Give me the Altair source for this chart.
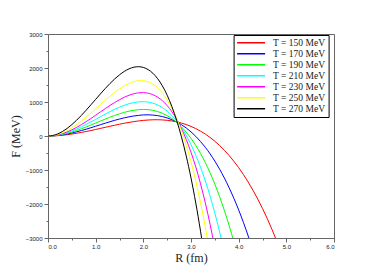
import altair as alt
import pandas as pd

labels = ["T = 150 MeV", "T = 170 MeV", "T = 190 MeV", "T = 210 MeV",
          "T = 230 MeV", "T = 250 MeV", "T = 270 MeV"]
colors = ["#ff0000", "#0000ff", "#00ff00", "#00ffff", "#ff00ff", "#ffff00", "#000000"]

# radius grid step (fm) and F values (MeV), starting at R = 0
r_step = 0.1
f_150 = [0, 3, 10, 22, 38, 57, 80, 105, 132, 161, 192, 223, 255, 286, 317, 347, 375, 400, 423, 443,
         459, 470, 477, 478, 473, 461, 442, 416, 380, 336, 282, 218, 143, 56, -43, -155, -280, -420,
         -574, -745, -931, -1134, -1355, -1595, -1854, -2132, -2431, -2752, -3094]
f_170 = [0, 4, 16, 34, 58, 88, 122, 160, 200, 243, 287, 332, 376, 420, 461, 499, 534, 564, 589, 607,
         620, 623, 616, 599, 571, 531, 478, 412, 332, 237, 122, -11, -162, -333, -524, -738, -975,
         -1236, -1522, -1835, -2175, -2543, -2942, -3371]
f_190 = [0, 5, 21, 45, 77, 117, 162, 212, 266, 323, 381, 439, 497, 553, 605, 653, 695, 730, 757, 774,
         781, 775, 755, 720, 669, 599, 510, 401, 268, 112, -69, -278, -515, -783, -1083, -1416, -1784,
         -2189, -2633, -3117]
f_210 = [0, 7, 26, 57, 98, 148, 207, 271, 341, 415, 490, 567, 643, 716, 785, 848, 903, 949, 983, 1004,
         1010, 998, 966, 913, 836, 733, 602, 440, 244, 13, -256, -566, -920, -1319, -1767, -2266,
         -2820, -3431]
f_230 = [0, 8, 31, 69, 119, 181, 253, 334, 422, 514, 610, 708, 804, 898, 987, 1068, 1140, 1199, 1243,
         1270, 1276, 1259, 1215, 1142, 1036, 894, 713, 489, 218, -103, -478, -910, -1405, -1965,
         -2596, -3300]
f_250 = [0, 11, 42, 92, 159, 240, 335, 440, 554, 673, 800, 926, 1050, 1170, 1283, 1385, 1474, 1546,
         1598, 1626, 1626, 1594, 1526, 1416, 1262, 1060, 812, 513, 155, -266, -756, -1318, -1958,
         -2681, -3491]
f_270 = [0, 15, 60, 130, 222, 335, 464, 606, 758, 917, 1078, 1239, 1395, 1543, 1679, 1799, 1899, 1975,
         2023, 2038, 2017, 1954, 1846, 1687, 1473, 1200, 862, 455, -27, -588, -1234, -1970, -2800,
         -3731]
series = [f_150, f_170, f_190, f_210, f_230, f_250, f_270]

x_ticks = [0, 0.5, 1, 1.5, 2, 2.5, 3, 3.5, 4, 4.5, 5, 5.5, 6]
y_ticks = [-3000, -2500, -2000, -1500, -1000, -500, 0, 500, 1000, 1500, 2000, 2500, 3000]

rows = []
for lab, vals in zip(labels, series):
    for i, v in enumerate(vals):
        rows.append({"R": round(i * r_step, 2), "F": v, "T": lab})
df = pd.DataFrame(rows)

chart = alt.Chart(df).mark_line(strokeWidth=1, clip=True, interpolate="monotone").encode(
    x=alt.X("R:Q", scale=alt.Scale(domain=[0, 6], nice=False),
            axis=alt.Axis(values=x_ticks, title="R (fm)", grid=False,
                          labelExpr="datum.value % 1 === 0 ? format(datum.value, '.1f') : ''",
                          tickSize={"condition": {"test": "datum.value % 1 === 0", "value": 4}, "value": 2},
                          labelFont="Liberation Sans", labelFontSize=6, labelColor="#222",
                          labelPadding=1, titleFont="Liberation Serif", titleFontSize=12,
                          titleFontWeight="normal", titlePadding=3, domainColor="#666",
                          tickColor="#666", titleColor="#222")),
    y=alt.Y("F:Q", scale=alt.Scale(domain=[-3000, 3000], nice=False),
            axis=alt.Axis(values=y_ticks, title="F (MeV)", grid=False,
                          labelExpr="datum.value % 1000 === 0 ? format(datum.value, 'd') : ''",
                          tickSize={"condition": {"test": "datum.value % 1000 === 0", "value": 4}, "value": 2},
                          labelFont="Liberation Sans", labelFontSize=6, labelColor="#222",
                          labelPadding=2, titleFont="Liberation Serif", titleFontSize=12,
                          titleFontWeight="normal", titlePadding=3, domainColor="#666",
                          tickColor="#666", titleColor="#222")),
    color=alt.Color("T:N", scale=alt.Scale(domain=labels, range=colors),
                    legend=alt.Legend(title=None, orient="none", legendX=185.6, legendY=1,
                                      strokeColor="black", fillColor="white", padding=2.5,
                                      labelFont="Liberation Serif", labelFontSize=9.5,
                                      labelColor="#222", symbolType="stroke", symbolSize=784,
                                      symbolStrokeWidth=1.5, clipHeight=10.5, rowPadding=0,
                                      labelOffset=7, labelLimit=200)),
).properties(
    width=286, height=204,
    autosize=alt.AutoSizeParams(type="none"),
    padding={"left": 40, "top": 26, "right": 30, "bottom": 30},
).configure_view(stroke="#666", strokeWidth=1)

chart.save("out.html", embed_options={"renderer": "svg", "actions": False})
